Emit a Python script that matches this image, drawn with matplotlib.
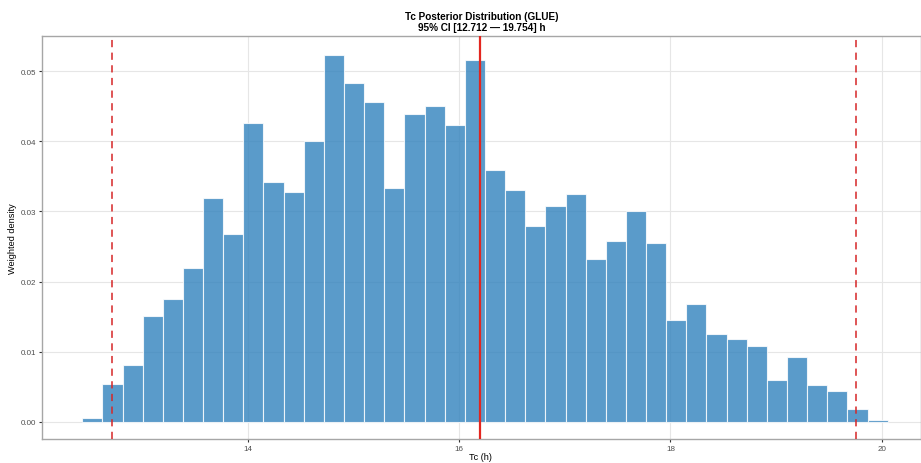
import numpy as np
import matplotlib
matplotlib.use("Agg")
import matplotlib.pyplot as plt

plt.rcParams['font.family'] = ['Liberation Sans', 'DejaVu Sans']

# Histogram data (bins=40, centred from tc_min to tc_max)
tc_min = 12.53
tc_max = 19.96
density = [0.00057, 0.00537, 0.00814, 0.01509, 0.01747, 0.02186, 0.03186, 0.02676,
           0.04266, 0.03423, 0.03276, 0.04000, 0.05229, 0.04829, 0.04561, 0.03333,
           0.04390, 0.04504, 0.04233, 0.05161, 0.03590, 0.03304, 0.02790, 0.03071,
           0.03247, 0.02323, 0.02571, 0.03000, 0.02547, 0.01451, 0.01676, 0.01247,
           0.01176, 0.01076, 0.00600, 0.00919, 0.00529, 0.00433, 0.00176, 0.00020]
ci_low = 12.712
ci_high = 19.754
median_tc = 16.2
x_ticks = [14, 16, 18, 20]
y_ticks = [0.00, 0.01, 0.02, 0.03, 0.04, 0.05]

n = len(density)
centers = np.linspace(tc_min, tc_max, n)
width = (tc_max - tc_min) / (n - 1)

fig = plt.figure(figsize=(9.21, 4.64), dpi=100)
ax = fig.add_axes([0.0456, 0.0510, 0.9544, 0.8686])

ax.bar(centers, density, width=width, color='#3182bd', alpha=0.8,
       edgecolor='white', linewidth=0.8, zorder=2)
ax.axvline(ci_low, color='#d62728', linestyle=(0, (4, 3)), linewidth=1.3, alpha=0.85, zorder=3)
ax.axvline(ci_high, color='#d62728', linestyle=(0, (4, 3)), linewidth=1.3, alpha=0.85, zorder=3)
ax.axvline(median_tc, color='#e3261f', linewidth=1.6, zorder=3)

ax.set_xlim(12.054, 20.37)
ax.set_ylim(-0.00253, 0.055)
ax.set_xticks(x_ticks)
ax.set_yticks(y_ticks)
ax.set_xticklabels([str(t) for t in x_ticks])
ax.set_yticklabels([f"{t:.2f}" for t in y_ticks])
ax.grid(True, color='#e6e6e6', linewidth=0.8, zorder=0)
ax.set_axisbelow(True)
for s in ax.spines.values():
    s.set_color('#a6a6a6')
    s.set_linewidth(1.0)
ax.tick_params(colors='#333333', labelcolor='#4d4d4d', labelsize=5.8, length=2.5, width=0.8, pad=1.8)

ax.set_xlabel('Tc (h)', fontsize=6.6, color='black', va='center')
ax.xaxis.set_label_coords(0.4985, -0.0435)
ax.set_ylabel('Weighted density', fontsize=6.6, color='black', va='center')
ax.yaxis.set_label_coords(-0.033, 0.5)
ax.set_title('Tc Posterior Distribution (GLUE)\n95% CI [12.712 \u2014 19.754] h',
             fontsize=7.2, fontweight='bold', linespacing=1.1, pad=4.5)

fig.savefig('out.png', dpi=100)
